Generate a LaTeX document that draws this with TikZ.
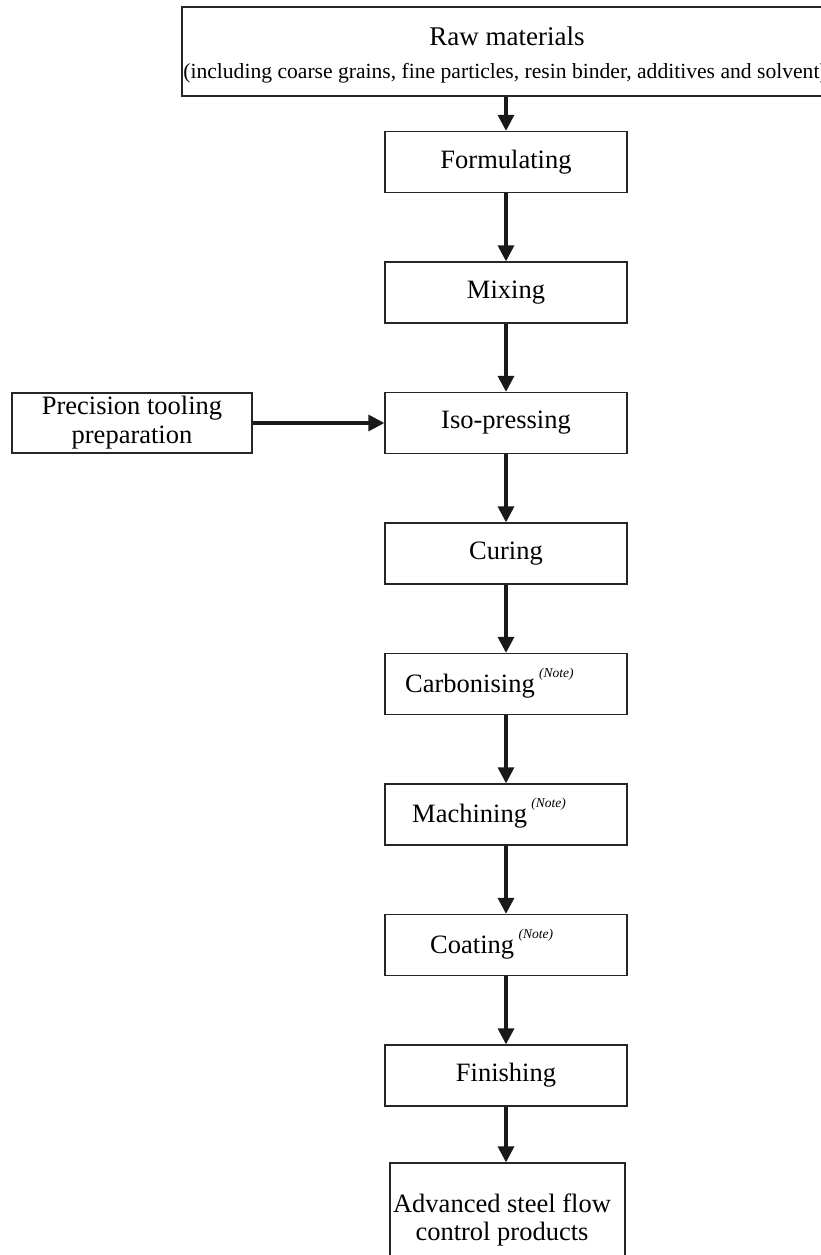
\documentclass[tikz,border=0pt]{standalone}
\usepackage{fontspec}
\setmainfont{Liberation Serif}
\usetikzlibrary{arrows.meta}
\newcommand{\notemark}{\,\raisebox{0.55em}{\fontsize{13.5}{14}\selectfont\itshape (Note)}}
\begin{document}
\begin{tikzpicture}[x=1pt,y=-1pt,
  box/.style={draw=black!85, line width=1.3pt, fill=white, inner sep=0pt, align=center,
    font=\fontsize{26.5}{29}\selectfont, minimum width=242pt, minimum height=61pt},
  lbl/.style={inner sep=0pt, font=\fontsize{26.5}{29}\selectfont, anchor=base west},
  flow/.style={line width=3.3pt, black!90, -{Triangle[length=16pt,width=16pt]}}]
\useasboundingbox (0,0) rectangle (821,1255);
% top box
\node[box, minimum width=650pt, minimum height=89pt] (raw) at (507,51.5) {};
\node[font=\fontsize{27}{29}\selectfont] (rawt) at (507,36) {Raw materials};
\node[font=\fontsize{21.6}{24}\selectfont] (rawd) at (505,73) {(including coarse grains, fine particles, resin binder, additives and solvent)};
% main column
\node[box] (form) at (506,162) {Formulating};
\node[box] (mix) at (506,292.5) {Mixing};
\node[box] (iso) at (506,423) {Iso-pressing};
\node[box, minimum width=240pt, minimum height=60pt] (prec) at (132,423) {Precision tooling\\preparation};
\node[box] (cur) at (506,553.5) {Curing};
\node[box] (carb) at (506,684) {};
\node[lbl] (carbt) at (405,692) {Carbonising\notemark};
\node[box] (mach) at (506,814.5) {};
\node[lbl] (macht) at (412,822.5) {Machining\notemark};
\node[box] (coat) at (506,945) {};
\node[lbl] (coatt) at (430,953) {Coating\notemark};
\node[box] (fin) at (506,1075.5) {Finishing};
\node[box, minimum width=235pt, minimum height=110pt] (adv) at (507.5,1218) {};
\node[font=\fontsize{26.5}{28.5}\selectfont, align=center] (advt) at (502,1220) {Advanced steel flow\\control products};
% connectors
\draw[flow] (raw.south -| form.north) -- (form);
\draw[flow] (form) -- (mix);
\draw[flow] (mix) -- (iso);
\draw[flow] (prec) -- (iso);
\draw[flow] (iso) -- (cur);
\draw[flow] (cur) -- (carb);
\draw[flow] (carb) -- (mach);
\draw[flow] (mach) -- (coat);
\draw[flow] (coat) -- (fin);
\draw[flow] (fin.south) -- (fin.south |- adv.north);
\end{tikzpicture}
\end{document}
